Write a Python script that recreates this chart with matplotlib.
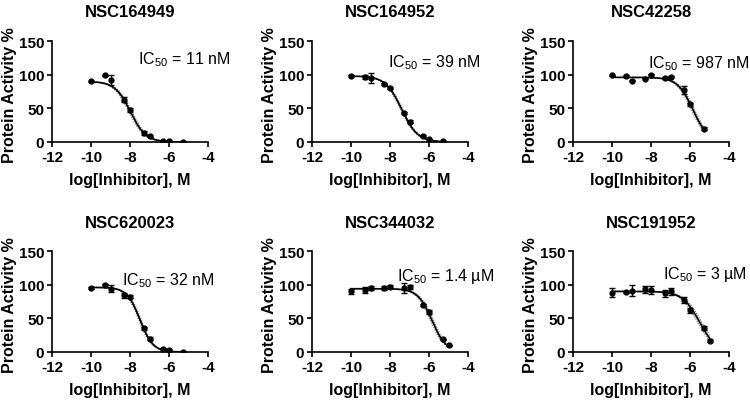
import numpy as np
import matplotlib
matplotlib.use("Agg")
import matplotlib.pyplot as plt

plt.rcParams["font.family"] = ["Liberation Sans", "DejaVu Sans"]
plt.rcParams["mathtext.fontset"] = "custom"
plt.rcParams["mathtext.rm"] = "Liberation Sans"
plt.rcParams["axes.unicode_minus"] = False

# ---
# Data (mean % activity and error per concentration)

log_conc_a = [-10, -9.3, -9, -8.3, -8, -7.3, -7, -6.3, -6, -5.3]
log_conc_b = [-10, -9.3, -9, -8.3, -8, -7.3, -7, -6.3, -6, -5.3, -5]

names = ["NSC164949", "NSC164952", "NSC42258", "NSC620023", "NSC344032", "NSC191952"]
ic50_labels = ["11 nM", "39 nM", "987 nM", "32 nM", "1.4 µM", "3 µM"]

act_164949 = [90, 99, 92, 63, 48, 13, 9, 1, 1, 0]
err_164949 = [1, 1, 8, 4, 3, 3, 2, 1, 1, 1]
act_164952 = [98, 97, 95, 86, 80, 43, 30, 9, 4, 1]
err_164952 = [1, 3, 8, 2, 2, 2, 2, 1, 1, 1]
act_42258 = [99, 98, 91, 94, 100, 95, 97, 77, 56, 20]
err_42258 = [1, 1, 1, 1, 1, 1, 1, 6, 2, 2]
act_620023 = [95, 100, 94, 84, 82, 35, 20, 5, 3, 0]
err_620023 = [1, 1, 5, 4, 2, 2, 2, 1, 1, 1]
act_344032 = [90, 92, 95, 95, 97, 95, 96, 70, 60, 19, 10]
err_344032 = [4, 4, 3, 3, 2, 7, 3, 2, 3, 1, 1]
act_191952 = [88, 89, 91, 93, 92, 87, 90, 77, 62, 36, 17]
err_191952 = [7, 2, 8, 5, 6, 5, 5, 4, 4, 3, 2]

xs = [log_conc_a, log_conc_a, log_conc_a, log_conc_a, log_conc_b, log_conc_b]
acts = [act_164949, act_164952, act_42258, act_620023, act_344032, act_191952]
errs = [err_164949, err_164952, err_42258, err_620023, err_344032, err_191952]

# Fitted four-parameter curve: top, bottom, logIC50, hill slope
fit_top = [90, 98, 96, 96, 94, 90]
fit_bottom = [0, 0, 0, 0, 0, 0]
fit_logic50 = [-7.98, -7.41, -5.85, -7.49, -5.85, -5.52]
fit_hill = [1.1, 1.05, 1.1, 1.3, 1.2, 1.0]
band_shift = [0.08, 0.06, 0.08, 0.06, 0.08, 0.1]

# IC50 annotation anchor (data coords)
label_x = [-7.6, -8.1, -8.15, -8.4, -7.65, -7.4]
label_y = [124, 120, 118, 108, 113, 116]

# ---

def hill(x, top, bottom, c, h):
    return bottom + (top - bottom) / (1 + 10 ** ((x - c) * h))

fig = plt.figure(figsize=(7.5, 4.02), dpi=100)
W, H = 750, 402
col_left = [52, 312, 573]
row_top = [42, 252]
ax_w, ax_h = 156, 101

for i in range(6):
    r, cidx = divmod(i, 3)
    ax = fig.add_axes([col_left[cidx] / W, 1 - (row_top[r] + ax_h) / H, ax_w / W, ax_h / H])

    x = np.array(xs[i])
    xx = np.linspace(x.min(), x.max(), 200)
    p = (fit_top[i], fit_bottom[i], fit_logic50[i], fit_hill[i])
    ax.plot(xx, hill(xx, *p), color="black", lw=1.2, zorder=3)
    for s in (-band_shift[i], band_shift[i]):
        ax.plot(xx, hill(xx, p[0], p[1], p[2] + s, p[3]), color="0.45", lw=0.9,
                ls=(0, (1, 1)), zorder=2)
    ax.errorbar(x, acts[i], yerr=errs[i], fmt="o", color="black", ms=3.5,
                elinewidth=1, capsize=2, capthick=1, zorder=4)

    ax.set_xlim(-12, -4)
    ax.set_ylim(0, 150)
    ax.set_xticks([-12, -10, -8, -6, -4])
    ax.set_yticks([0, 50, 100, 150])
    for side in ("top", "right"):
        ax.spines[side].set_visible(False)
    for side in ("left", "bottom"):
        ax.spines[side].set_linewidth(1.2)
    ax.tick_params(direction="out", length=3.5, width=1.2, labelsize=11, pad=2)
    for lab in ax.get_xticklabels() + ax.get_yticklabels():
        lab.set_fontweight("bold")

    ax.set_title(names[i], fontsize=12, fontweight="bold", pad=18 if r == 0 else 17)
    ax.set_xlabel("log[Inhibitor], M", fontsize=11.5, fontweight="bold")
    ax.xaxis.set_label_coords(0.5, -(180 - 143) / ax_h)
    ax.xaxis.label.set_va("center")
    ax.set_ylabel("Protein Activity %", fontsize=11.5, fontweight="bold")
    ax.yaxis.set_label_coords(-0.27, 0.47)
    ax.yaxis.label.set_va("center")

    ax.text(label_x[i], label_y[i], r"IC$_{50}$ = " + ic50_labels[i], fontsize=11.5,
            ha="left", va="center", clip_on=False)

fig.savefig("out.png", dpi=100)
